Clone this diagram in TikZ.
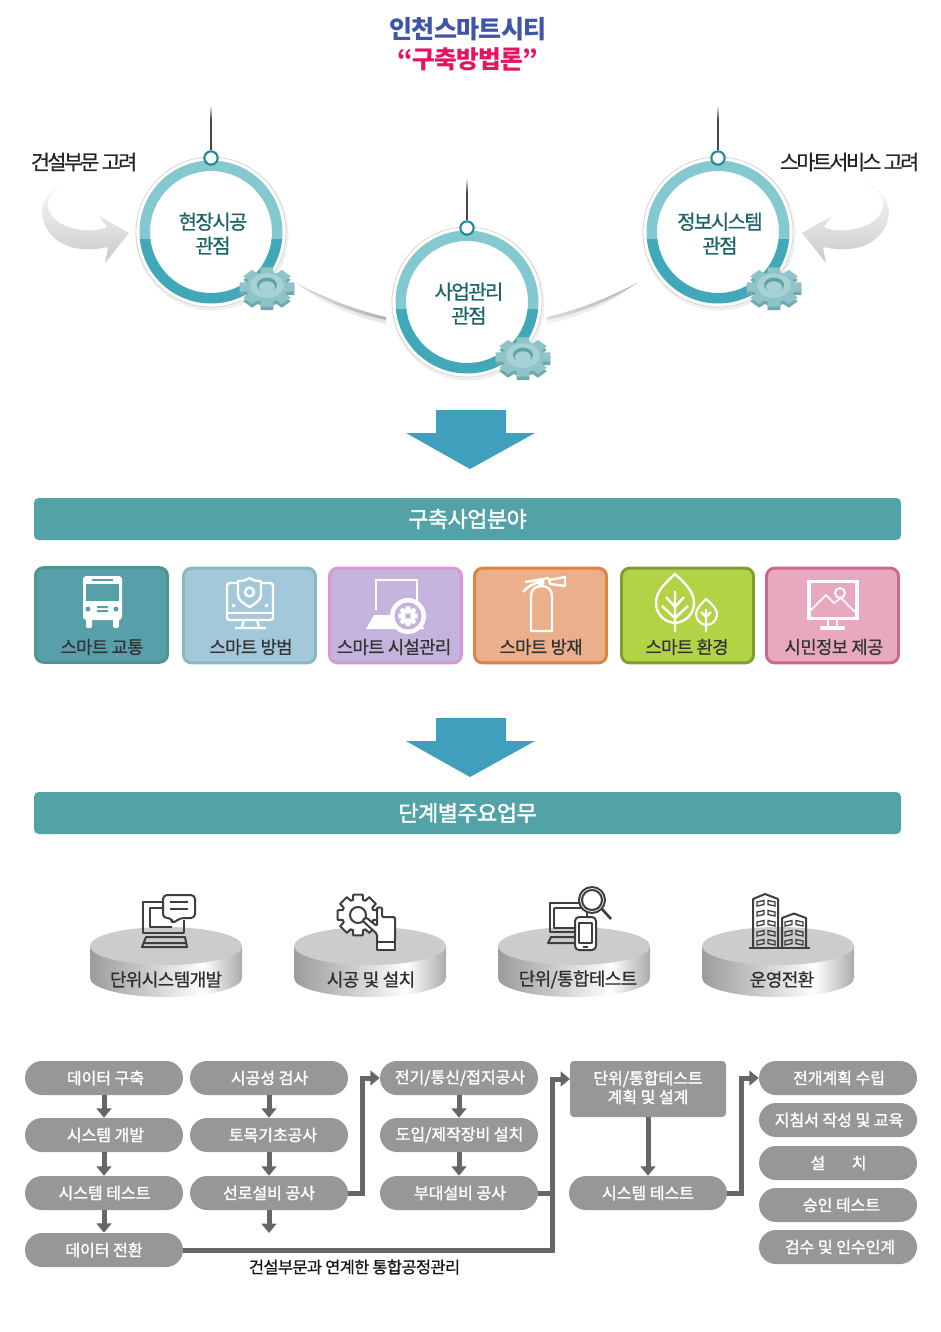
\documentclass[tikz,border=0pt]{standalone}
\usepackage{fontspec}
\usetikzlibrary{arrows.meta,shapes.misc,calc}
\setmainfont{Noto Sans CJK KR}
\newfontfamily\kr[FakeBold=1.6]{Noto Sans CJK KR}
\newfontfamily\krn[LetterSpace=-3]{Noto Sans CJK KR}
\newfontfamily\krb[LetterSpace=-2.5,FakeBold=1.8]{Noto Sans CJK KR}
\newfontfamily\krs[LetterSpace=-3.5,FakeBold=0.7]{Noto Sans CJK KR}
\newfontfamily\krt[LetterSpace=-8,FakeBold=0.7]{Noto Sans CJK KR}
\newfontfamily\kru[LetterSpace=-12,FakeBold=0.7]{Noto Sans CJK KR}
\definecolor{ringL}{HTML}{85C9D0}
\definecolor{ringD}{HTML}{40A8B8}
\definecolor{tealtxt}{HTML}{1B6468}
\definecolor{barc}{HTML}{53A2A8}
\definecolor{arrowc}{HTML}{3F9FBC}
\definecolor{pillc}{HTML}{979797}
\definecolor{linkc}{HTML}{666666}
\definecolor{iconk}{HTML}{3C3F42}
\definecolor{pa}{HTML}{9C9C9C}
\definecolor{pb}{HTML}{C6C6C6}
\definecolor{pc}{HTML}{FFFFFF}
\definecolor{pd}{HTML}{ABABAB}
\definecolor{gearA}{HTML}{6FA9AE}
\definecolor{gearB}{HTML}{8EC3C7}
\definecolor{gearC}{HTML}{A6D2D5}
\definecolor{gearH}{HTML}{5FA3A8}
\definecolor{cardA}{HTML}{58A0A9}
\definecolor{cardC}{HTML}{C3B3DD}
\definecolor{cardE}{HTML}{B2D345}
\pgfdeclarehorizontalshading{podside}{100bp}{color(0bp)=(pa);color(25bp)=(pa);color(42bp)=(pb);color(62bp)=(pc);color(75bp)=(pd);color(100bp)=(pd)}
\newcommand\fs[1]{\fontsize{#1}{#1}\selectfont}
\newcommand\gearpath[2]{(-13:#1) \foreach \a in {0,45,...,315}{ -- (\a-13:#1) -- (\a+13:#1) -- (\a+18:#2) -- (\a+27:#2)} -- cycle}
% 3D gear
\newcommand\bluegear[2]{%
 \begin{scope}[shift={(#1,#2)},yscale=.72]
  \begin{scope}[shift={(0,5)}]\fill[gearA] \gearpath{28}{21};\end{scope}
  \fill[gearB] \gearpath{28}{21};
  \fill[gearC] (0,-2) circle[radius=17];
  \fill[gearH] (0,-3) circle[radius=10];
  \fill[gearC] (0,0) circle[radius=8];
 \end{scope}}
% viewpoint circle
\newcommand\viewpoint[5]{%
 \begin{scope}[shift={(#2,#3)}]
  \fill[gray!12] (1,2) circle[radius=76.5];
  \fill[white,draw=black!16,line width=.6pt] (0,0) circle[radius=75];
  \begin{scope}\clip (-80,-80) rectangle (80,7);
   \fill[ringL,even odd rule] (0,0) circle[radius=71.5] (0,0) circle[radius=61];\end{scope}
  \begin{scope}\clip (-80,7) rectangle (80,80);
   \fill[ringD,even odd rule] (0,0) circle[radius=71.5] (0,0) circle[radius=61];\end{scope}
  \node[name=#1knob,circle,draw={rgb,255:red,30;green,140;blue,150},fill=white,line width=1.6pt,minimum size=10pt,inner sep=0pt] at (0,-74) {};
  \coordinate (#1top) at (0,-#5+14);
  \shade[top color=white,bottom color=black!72] (-.75,-#5) rectangle (.75,-#5+14);
  \node[name=#1lab,align=center,text=tealtxt,font=\krt\fs{15},text depth=0pt] at (2,1) {#4};
 \end{scope}
 \draw[line width=1.1pt,draw=black!72] (#1top) -- (#1knob);
 \bluegear{\the\numexpr#2+56\relax}{\the\numexpr#3+55\relax}}
\newcommand\swoosh{%
 \shade[top color=white,bottom color=black!21]
  (78,175) .. controls (58,184) and (46,196) .. (48,207)
  .. controls (50,218) and (60,227) .. (83,230) .. controls (92,231) and (101,230) .. (107,227)
  -- (99,216) -- (129,233) -- (105,263) -- (108,247) .. controls (98,249) and (90,250) .. (83,249)
  .. controls (62,248) and (44,235) .. (42,213) .. controls (41,198) and (56,184) .. (78,175) -- cycle;}
\newcommand\crescent{%
 \shade[left color=black!5,right color=black!10]
  (296,283) .. controls (325,298) and (355,310) .. (386,317) -- (386,324) .. controls (350,316) and (320,302) .. (296,283) -- cycle;
 \shade[left color=black!14,right color=black!30]
  (296,283) .. controls (325,298) and (355,310) .. (386,317) -- (386,320) .. controls (352,313) and (322,300) .. (296,283) -- cycle;}
\newcommand\bigdown[1]{\fill[arrowc] (436,#1) -- (506,#1) -- (506,#1+23) -- (535,#1+23) -- (470,#1+59) -- (406,#1+23) -- (436,#1+23) -- cycle;}
\newcommand\podium[4]{%
 \begin{scope}[shift={(#2,946)}]
  \shade[shading=podside] (-76,0) -- (-76,32) .. controls (-76,42.5) and (-42,51) .. (0,51) .. controls (42,51) and (76,42.5) .. (76,32) -- (76,0) -- cycle;
  \fill[black!20] (0,0) ellipse[x radius=76,y radius=19];
  \node[name=#1,font=\krs\fs{13.5},text=black!82] at (#4,33.5) {#3};
 \end{scope}}
\tikzset{
 x=.75pt,y=-.75pt,
 card/.style={draw,line width=2.2pt,rounded corners=6pt,minimum width=99pt,minimum height=71pt,inner sep=0pt},
 cardtxt/.style={font=\krs\fs{13.3},text=black!80},
 bar/.style={fill=barc,rounded corners=3.5pt,minimum width=650.25pt,minimum height=31.5pt,text=white,font=\krb\fs{16.5},inner sep=0pt},
 pill/.style={rounded rectangle,fill=pillc,text=white,font=\kr\fs{12},minimum width=118.5pt,minimum height=25.5pt,inner sep=0pt},
 link/.style={draw=linkc,line width=3.75pt,-{Triangle[length=7pt,width=11pt]}},
 plainlink/.style={draw=linkc,line width=3.75pt},
 ic/.style={draw=white,line width=1.8pt,line join=round},
 ik/.style={draw=iconk,line width=1.5pt,line join=round},
}
\begin{document}
\begin{tikzpicture}
\useasboundingbox (0,0) rectangle (940,1332);
\fill[white] (0,0) rectangle (940,1332);
% title
\node[name=t1,font=\krn\bfseries\fs{18.8},text={rgb,255:red,63;green,85;blue,165}] at (468,29) {인천스마트시티};
\node[name=t2,font=\krn\bfseries\fs{18.5},text={rgb,255:red,229;green,20;blue,95}] at (468,59) {“구축방법론”};
% swooshes and crescents
\swoosh
\begin{scope}[shift={(931,0)},xscale=-1]\swoosh\end{scope}
\crescent
\begin{scope}[shift={(933,0)},xscale=-1]\crescent\end{scope}
\node[name=lblL,font=\kru\fs{15.5},text=black!85] at (84,162) {건설부문 고려};
\node[name=lblR,font=\kru\fs{15.5},text=black!85] at (849.5,162) {스마트서비스 고려};
\viewpoint{va}{211}{232}{현장시공\\[3pt]관점}{127}
\viewpoint{vb}{467}{302}{사업관리\\[3pt]관점}{124}
\viewpoint{vc}{718}{232}{정보시스템\\[3pt]관점}{127}
\bigdown{410}
\node[bar,name=bar1] at (467.5,519) {구축사업분야};
% cards
\node[card,name=c1,fill=cardA,draw={rgb,255:red,77;green,149;blue,143}] at (101.5,615) {};
\node[card,name=c2,fill={rgb,255:red,163;green,200;blue,218},draw={rgb,255:red,136;green,184;blue,192}] at (249.5,615.5) {};
\node[card,name=c3,fill=cardC,draw={rgb,255:red,216;green,152;blue,216}] at (395.5,615.5) {};
\node[card,name=c4,fill={rgb,255:red,234;green,176;blue,140},draw={rgb,255:red,221;green,133;blue,64}] at (540.5,615.5) {};
\node[card,name=c5,fill=cardE,draw={rgb,255:red,127;green,158;blue,48}] at (687.5,615.5) {};
\node[card,name=c6,fill={rgb,255:red,232;green,169;blue,192},draw={rgb,255:red,204;green,104;blue,144}] at (832.5,615.5) {};
\node[cardtxt,name=c1t] at (102,647) {스마트 교통};
\node[cardtxt,name=c2t] at (251,647) {스마트 방범};
\node[cardtxt,name=c3t] at (394,647) {스마트 시설관리};
\node[cardtxt,name=c4t] at (541,647) {스마트 방재};
\node[cardtxt,name=c5t] at (687,647) {스마트 환경};
\node[cardtxt,name=c6t] at (834,647) {시민정보 제공};
% bus
\fill[white,rounded corners=2.5pt] (83,576) rectangle (122,620);
\fill[white,rounded corners=1pt] (86,618) rectangle (92,628) (113,618) rectangle (119,628);
\fill[cardA] (86,584) rectangle (119,601);
\fill[cardA] (92,579) rectangle (113,581);
\fill[cardA] (88,609) circle[radius=2.5] (116,609) circle[radius=2.5];
\fill[cardA] (97,606) rectangle (108,608) (97,610) rectangle (108,612);
% shield monitor
\draw[ic,rounded corners=2pt] (237,583) -- (227,583) -- (227,620) -- (273,620) -- (273,583) -- (262,583);
\draw[ic] (227,613) -- (273,613) (244,620) -- (242,627) (257,620) -- (259,627) (235,628) -- (266,628);
\draw[ic] (238,581) .. controls (244,581) and (247,580) .. (249.5,578) .. controls (252,580) and (255,581) .. (261,581) -- (261,595) .. controls (261,600) and (255,604) .. (249.5,607) .. controls (244,604) and (238,600) .. (238,595) -- cycle;
\draw[ic] (249.5,592) circle[radius=4.5];
\fill[white] (232,604) rectangle (235,607) (265,604) rectangle (268,607);
% facility laptop
\draw[draw=white,line width=2.2pt] (376,610) -- (376,580) -- (417,580) -- (417,605);
\fill[white] (374,615) -- (410,615) -- (425,629) -- (366,629) -- cycle;
\fill[white] (408,616) circle[radius=18];
\fill[cardC] (408,616) circle[radius=13.5];
\begin{scope}[shift={(408,616)}]
 \fill[white,even odd rule] \gearpath{10}{7.5} (0,0) circle[radius=3];
\end{scope}
% extinguisher
\draw[ic] (531,631) -- (552,631) -- (552,596) .. controls (552,589) and (547,586) .. (541.5,586) .. controls (536,586) and (531,589) .. (531,596) -- cycle;
\draw[ic] (541,586) -- (541,580) (525,582) -- (549,578) (523,592) .. controls (527,587) and (533,583) .. (541,582);
\draw[ic,line width=1.8pt] (541,582) circle[radius=2.5];
\draw[ic] (549,580) -- (565,577) -- (565,586) -- (550,584) -- cycle;
% leaves
\draw[ic] (675,574) .. controls (664,584) and (656,592) .. (656,603) .. controls (656,614) and (664,622) .. (675,623) .. controls (686,622) and (694,614) .. (694,603) .. controls (694,592) and (686,584) .. (675,574) -- cycle;
\draw[fill=cardE,draw=white,line width=1.6pt] (706,599) .. controls (701,604) and (696,609) .. (696,614) .. controls (696,620) and (701,625) .. (706.5,625) .. controls (712,625) and (717,620) .. (717,614) .. controls (717,609) and (712,604) .. (706,599) -- cycle;
\draw[ic] (675,591) -- (675,632) (666,597) -- (675,607) -- (684,597) (662,606) -- (675,618) -- (688,606);
\draw[ic] (706,609) -- (706,632) (701,612) -- (706,617) -- (711,612);
% picture monitor
\draw[draw=white,line width=2.4pt] (809,581.5) rectangle (857,618.5);
\draw[ic,line width=1.2pt] (811,610) -- (826,595) -- (834,603) -- (841,598) -- (855,612);
\draw[ic,line width=1.4pt] (840,593) circle[radius=5];
\draw[ic] (828,619) -- (828,626) (837,619) -- (837,626);
\draw[ic] (821,627) rectangle (844,628.5);
\bigdown{718}
\node[bar,name=bar2] at (467.5,813) {단계별주요업무};
% podiums
\podium{p1}{166}{단위시스템개발}{0}
\podium{p2}{370}{시공 및 설치}{1}
\podium{p3}{574}{단위/통합테스트}{4}
\podium{p4}{778}{운영전환}{4}
% icon 1
\draw[ik] (163,902) -- (143,902) -- (143,933) -- (184,933) -- (184,920);
\draw[ik] (163,908) -- (150,908) -- (150,927) -- (172,927);
\draw[ik] (146,937) -- (185,937) -- (187,947) -- (142,947) -- cycle (144,943) -- (186,943);
\draw[ik,fill=white,rounded corners=3pt] (163,895) -- (195,895) -- (195,918) -- (180,918) -- (172,924) -- (172,918) -- (163,918) -- cycle;
\draw[ik] (170,902) -- (188,902) (170,909) -- (188,909);
% icon 2
\begin{scope}[shift={(358,915)}]
 \draw[ik,fill=white] \gearpath{21}{16};
 \draw[ik] (0,0) circle[radius=8];
\end{scope}
\draw[ik,fill=white,rounded corners=1pt] (377,942) -- (377,934) -- (364,922) .. controls (362,919) and (367,917) .. (369,920) -- (377,926) -- (377,910) .. controls (377,907) and (382,907) .. (382,910) -- (382,917) -- (395,917) -- (395,942) -- cycle;
\draw[ik,fill=white] (377,942) rectangle (395,950);
% icon 3
\draw[ik] (587,903) -- (550,903) -- (550,932) -- (575,932) (554,908) -- (554,928) -- (575,928) (554,908) -- (587,908) -- (587,916);
\draw[ik] (575,937) -- (551,937) -- (548,943) -- (575,943);
\draw[ik,fill=white] (592,900) circle[radius=13];
\draw[ik] (592,900) circle[radius=10];
\draw[ik,line width=2pt] (602,909) -- (611,919);
\draw[ik,fill=white,rounded corners=3pt] (575,917) rectangle (596,950);
\draw[ik] (579,923) rectangle (592,943);
\draw[ik] (583,946.5) -- (588,946.5);
% icon 4
\draw[ik] (753,948) -- (753,899) -- (765,894) -- (778,899) -- (778,948);
\draw[ik] (782,948) -- (782,918) -- (794,913.5) -- (806,918) -- (806,948);
\draw[iconk,line width=1.8pt] (749,948) -- (810,948);
\foreach \yy in {902,912,922,932,941}{
 \draw[iconk,line width=1pt] (757,\yy) -- (764,\yy-1.5) -- (764,\yy+2.5) -- (757,\yy+4) -- cycle;
 \draw[iconk,line width=1pt] (768,\yy-1.5) -- (775,\yy) -- (775,\yy+4) -- (768,\yy+2.5) -- cycle;}
\foreach \yy in {922,932,941}{
 \draw[iconk,line width=1pt] (785,\yy) -- (792,\yy-1.5) -- (792,\yy+2.5) -- (785,\yy+4) -- cycle;
 \draw[iconk,line width=1pt] (796,\yy-1.5) -- (803,\yy) -- (803,\yy+4) -- (796,\yy+2.5) -- cycle;}
% pills
\tikzset{pt/.style={text=white,font=\kr\fs{12},inner sep=0pt}}
\node[pill,name=a1] at (104,1078) {};
\node[pill,name=a2] at (104,1135) {};
\node[pill,name=a3] at (104,1193) {};
\node[pill,name=a4] at (104,1250) {};
\node[pill,name=b1] at (269,1078) {};
\node[pill,name=b2] at (269,1135) {};
\node[pill,name=b3] at (269,1193) {};
\node[pill,name=d1] at (459,1078) {};
\node[pill,name=d2] at (459,1135) {};
\node[pill,name=d3] at (459,1193) {};
\node[name=e1,fill=pillc,rounded corners=3pt,minimum width=117pt,minimum height=42pt,inner sep=0pt] at (648,1089) {};
\node[pill,name=e2] at (648,1193) {};
\node[pill,name=f1] at (838,1078) {};
\node[pill,name=f2] at (838,1120) {};
\node[pill,name=f3] at (838,1163) {};
\node[pill,name=f4] at (838,1205) {};
\node[pill,name=f5] at (838,1247) {};
\node[pt,name=a1t] at (105.5,1078) {데이터 구축};
\node[pt,name=a2t] at (105.5,1135) {시스템 개발};
\node[pt,name=a3t] at (104.5,1193) {시스템 테스트};
\node[pt,name=a4t] at (104,1250) {데이터 전환};
\node[pt,name=b1t] at (269.5,1078) {시공성 검사};
\node[pt,name=b2t] at (273,1135) {토목기초공사};
\node[pt,name=b3t] at (269,1193) {선로설비 공사};
\node[pt,name=d1t] at (460,1078) {전기/통신/접지공사};
\node[pt,name=d2t] at (459.5,1135) {도입/제작장비 설치};
\node[pt,name=d3t] at (460,1193) {부대설비 공사};
\node[pt,name=e1t,align=center] at (648,1087.5) {단위/통합테스트\\[1pt]계획 및 설계};
\node[pt,name=e2t] at (648,1193) {시스템 테스트};
\node[pt,name=f1t] at (839,1078) {전개계획 수립};
\node[pt,name=f2t] at (839,1120) {지침서 작성 및 교육};
\node[pt,name=f3t] at (838.5,1163) {설\hspace{20pt}치};
\node[pt,name=f4t] at (841.5,1205) {승인 테스트};
\node[pt,name=f5t] at (840,1247) {검수 및 인수인계};
\node[name=note,font=\krs\fs{12.3},text=black!92] at (354.5,1267) {건설부문과 연계한 통합공정관리};
% connectors
\coordinate (b4end) at (269,1233);
\coordinate (busA) at (362,1193);
\coordinate (busAt) at (362,1078);
\coordinate (busB) at (552,1250);
\coordinate (busBm) at (552,1193);
\coordinate (busBt) at (552,1079);
\coordinate (e1in) at (570,1079);
\coordinate (busC) at (741,1193);
\coordinate (busCt) at (741,1078);
\draw[link] (a1) -- (a2);
\draw[link] (a2) -- (a3);
\draw[link] (a3) -- (a4);
\draw[link] (b1) -- (b2);
\draw[link] (b2) -- (b3);
\draw[link] (b3) -- (b4end);
\draw[link] (d1) -- (d2);
\draw[link] (d2) -- (d3);
\draw[link] (e1) -- (e2);
\draw[link] (b3.east) -- (busA) -- (busAt) -- (d1.west);
\draw[link] (a4.east) -- (busB) -- (busBt) -- (e1in);
\draw[plainlink] (d3.east) -- (busBm);
\draw[link] (e2.east) -- (busC) -- (busCt) -- (f1.west);
\end{tikzpicture}
\end{document}
